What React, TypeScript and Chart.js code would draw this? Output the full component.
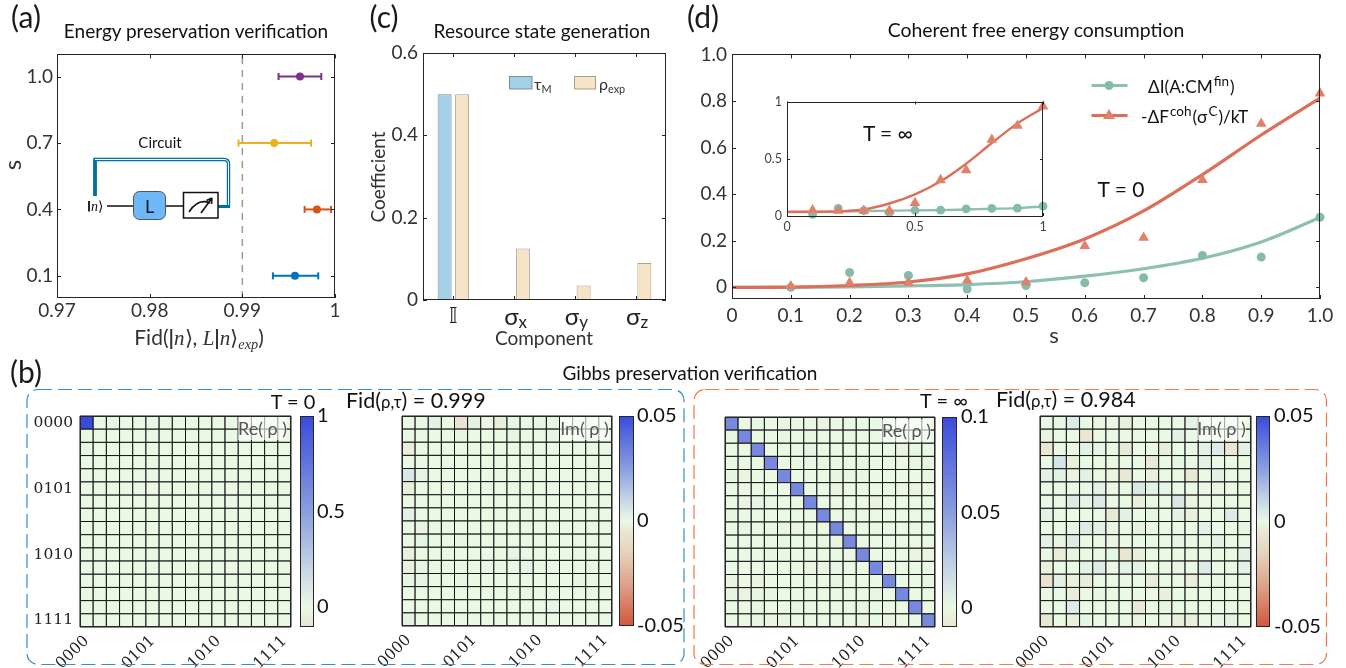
import React, { useEffect, useRef } from "react";
import { Chart, registerables } from "chart.js";
Chart.register(...registerables);

const FONT = "Lato";
const INK = "#333";

// ---------- (a) energy preservation
const sValuesA = [0.1, 0.4, 0.7, 1.0];
const fidCenter = [0.99568, 0.99805, 0.99344, 0.99622];
const fidLow = [0.9933, 0.99672, 0.98959, 0.99391];
const fidHigh = [0.99819, 0.99957, 0.99741, 0.99852];
const fidColors = ["#0072BD", "#D95319", "#EDB120", "#7E2F8E"];
const fidTicks = [0.97, 0.98, 0.99, 1];
const fidThreshold = 0.99;

// ---------- (c) resource state
const components = ["𝕀", "σx", "σy", "σz"];
const tauM = [0.5, 0, 0, 0];
const rhoExp = [0.5, 0.125, 0.035, 0.09];

// ---------- (d) coherent free energy, T = 0
const sGrid = [0.1, 0.2, 0.3, 0.4, 0.5, 0.6, 0.7, 0.8, 0.9, 1.0];
const deltaI = [0, 0.064, 0.051, -0.007, 0.008, 0.02, 0.041, 0.137, 0.13, 0.301];
const deltaF = [0.005, 0.02, 0.02, 0.03, 0.022, 0.178, 0.213, 0.461, 0.703, 0.833];
const curveS = [0, 0.1, 0.2, 0.3, 0.4, 0.5, 0.6, 0.7, 0.8, 0.9, 1.0];
const deltaIFit = [0, 0, 0.002, 0.006, 0.012, 0.024, 0.048, 0.08, 0.125, 0.195, 0.3];
const deltaFFit = [0, 0.001, 0.008, 0.023, 0.058, 0.123, 0.208, 0.328, 0.484, 0.654, 0.812];

// ---------- (d) inset, T = infinity
const deltaIInf = [0.014, 0.066, 0.046, 0.029, 0.051, 0.051, 0.063, 0.066, 0.069, 0.086];
const deltaFInf = [0.051, 0.046, 0.046, 0.046, 0.114, 0.314, 0.4, 0.666, 0.789, 0.957];
const deltaIInfFit = [0.034, 0.034, 0.04, 0.043, 0.046, 0.049, 0.051, 0.057, 0.063, 0.069, 0.083];
const deltaFInfFit = [0.037, 0.037, 0.04, 0.057, 0.109, 0.189, 0.303, 0.457, 0.637, 0.809, 0.943];

// ---------- (b) density matrices: [row, col, value], every other cell is near zero
const basisTicks = [0, 5, 10, 15];
const basisLabels = ["0000", "0101", "1010", "1111"];
const reT0 = [[0, 0, 1], [0, 2, 0.012], [2, 0, 0.012], [14, 1, 0.012]];
const imT0 = [
  [0, 2, 0.002], [0, 4, -0.006], [0, 5, 0.002], [0, 7, -0.003], [0, 8, 0.001], [0, 10, 0.001], [0, 11, 0.001],
  [1, 4, -0.001], [1, 8, 0.001], [1, 11, 0.001], [2, 0, -0.003], [4, 0, 0.005], [4, 1, 0.001], [5, 0, -0.003],
  [7, 0, 0.002], [8, 1, -0.001], [9, 1, 0.001], [9, 4, 0.001], [10, 0, -0.002], [10, 8, 0.001], [11, 0, -0.002],
  [11, 1, 0.001], [11, 9, 0.001], [12, 0, 0.001], [12, 1, 0.001], [12, 4, 0.001], [12, 13, 0.001], [14, 11, 0.001],
  [15, 0, 0.002],
];
const reInfDiagonal = [0.0625, 0.0625, 0.0625, 0.0625, 0.0625, 0.0625, 0.0625, 0.0625, 0.0625, 0.0625, 0.0625, 0.0625, 0.0625, 0.0625, 0.0625, 0.0625];
const reInfOff = [
  [0, 4, -0.002], [0, 5, -0.001], [0, 7, -0.002], [1, 0, -0.001], [1, 4, -0.001], [1, 6, -0.001], [1, 9, 0.001],
  [2, 6, 0.002], [2, 13, -0.002], [2, 14, 0.001], [3, 7, -0.001], [3, 10, -0.002], [3, 14, -0.002], [3, 15, -0.002],
  [4, 0, -0.002], [4, 1, -0.002], [4, 8, -0.002], [4, 9, 0.001], [4, 10, 0.001], [4, 15, -0.001], [5, 8, -0.002],
  [5, 13, -0.001], [5, 14, -0.002], [6, 1, -0.002], [6, 2, 0.002], [6, 3, 0.001], [6, 11, -0.003], [7, 0, -0.002],
  [7, 9, -0.001], [8, 1, 0.001], [8, 3, -0.001], [8, 4, -0.002], [8, 5, -0.002], [8, 11, 0.001], [8, 12, 0.001],
  [9, 4, 0.001], [9, 7, -0.001], [9, 8, -0.002], [10, 3, -0.002], [10, 4, 0.001], [10, 14, -0.002], [10, 15, -0.002],
  [11, 6, -0.002], [11, 7, -0.002], [11, 8, 0.001], [12, 0, -0.002], [12, 2, -0.002], [12, 8, 0.001], [12, 15, -0.002],
  [13, 0, -0.002], [13, 1, -0.002], [13, 2, 0.001], [13, 3, -0.002], [13, 11, -0.001], [14, 2, -0.001], [14, 5, -0.002],
  [14, 10, -0.002], [15, 2, 0.001], [15, 3, -0.002], [15, 4, -0.002], [15, 10, -0.002], [15, 12, -0.002],
];
const imInf = [
  [0, 1, 0.001], [0, 2, 0.004], [0, 4, -0.001], [0, 6, -0.002], [0, 11, 0.002], [1, 0, -0.001], [1, 3, -0.005], [1, 10, 0.002],
  [2, 0, -0.005], [2, 3, 0.002], [2, 4, 0.001], [2, 6, -0.004], [2, 9, -0.003], [2, 12, 0.002], [2, 13, 0.004], [2, 14, -0.005], [2, 15, 0.002],
  [3, 1, 0.006], [3, 2, -0.002], [3, 8, -0.004], [3, 10, 0.001], [3, 12, 0.002],
  [4, 0, 0.002], [4, 1, 0.002], [4, 2, -0.001], [4, 3, 0.002], [4, 5, -0.001], [4, 6, -0.004], [4, 8, -0.002], [4, 11, -0.004], [4, 13, 0.002],
  [5, 4, 0.002], [5, 7, 0.005], [5, 8, 0.002], [5, 9, 0.001], [5, 13, -0.001],
  [6, 2, 0.004], [6, 3, 0.001], [6, 4, 0.004], [6, 7, -0.002], [6, 10, 0.005], [6, 11, -0.001],
  [7, 0, 0.002], [7, 5, -0.004], [7, 6, 0.002], [7, 8, 0.001], [7, 10, 0.002], [7, 11, -0.002], [7, 14, 0.004],
  [8, 2, 0.001], [8, 3, 0.004], [8, 4, 0.002], [8, 5, -0.001], [8, 7, -0.002], [8, 12, 0.002], [8, 15, 0.001],
  [9, 0, 0.002], [9, 1, -0.001], [9, 2, 0.004], [9, 5, -0.001], [9, 10, 0.001], [9, 13, 0.002],
  [10, 1, -0.003], [10, 2, -0.001], [10, 5, 0.001], [10, 6, -0.005], [10, 7, -0.002], [10, 15, 0.002],
  [11, 0, -0.002], [11, 3, 0.002], [11, 4, 0.004], [11, 6, 0.002], [11, 7, 0.002], [11, 10, -0.001], [11, 12, 0.004], [11, 15, 0.002],
  [12, 0, -0.007], [12, 1, 0.002], [12, 2, -0.002], [12, 3, -0.003], [12, 8, -0.003], [12, 11, -0.003], [12, 13, -0.001],
  [13, 2, -0.003], [13, 4, -0.001], [13, 9, -0.002],
  [14, 2, 0.004], [14, 7, -0.004], [14, 9, 0.001],
  [15, 0, -0.005], [15, 2, -0.002], [15, 3, 0.001], [15, 7, -0.001], [15, 10, -0.002], [15, 11, -0.002], [15, 13, 0.001], [15, 14, 0.002],
];

// ---------- colormap shared by the matrices and their colour bars
const cmapT = [-1, -0.6, -0.3, -0.1, 0, 0.08, 0.25, 0.5, 1];
const cmapRGB = [[208, 87, 61], [221, 163, 139], [230, 211, 186], [233, 230, 211], [233, 249, 228], [221, 235, 230], [188, 205, 228], [138, 158, 224], [58, 75, 219]];
function cmap(t: number) {
  const v = Math.max(-1, Math.min(1, t));
  let i = 0;
  while (i < cmapT.length - 2 && v > cmapT[i + 1]) i++;
  const f = (v - cmapT[i]) / (cmapT[i + 1] - cmapT[i]);
  const c = cmapRGB[i].map((a, k) => Math.round(a + (cmapRGB[i + 1][k] - a) * f));
  return `rgb(${c[0]},${c[1]},${c[2]})`;
}

// ---------- layout helpers
type Area = { l: number; t: number; r: number; b: number };
type Margin = { l: number; t: number; r: number; b: number };

const framePlugin = (tick: number) => ({
  id: "frame",
  afterDraw(chart: any) {
    const { ctx, chartArea: a, scales } = chart;
    ctx.save();
    ctx.strokeStyle = "#262626";
    ctx.lineWidth = 1;
    ctx.strokeRect(Math.round(a.left) + 0.5, Math.round(a.top) + 0.5, Math.round(a.width) - 1, Math.round(a.height) - 1);
    if (tick > 0) {
      ctx.beginPath();
      scales.x.ticks.forEach((t: any) => {
        const p = Math.round(scales.x.getPixelForValue(t.value)) + 0.5;
        ctx.moveTo(p, a.top); ctx.lineTo(p, a.top + tick);
        ctx.moveTo(p, a.bottom); ctx.lineTo(p, a.bottom - tick);
      });
      scales.y.ticks.forEach((t: any) => {
        const p = Math.round(scales.y.getPixelForValue(t.value)) + 0.5;
        ctx.moveTo(a.left, p); ctx.lineTo(a.left + tick, p);
        ctx.moveTo(a.right, p); ctx.lineTo(a.right - tick, p);
      });
      ctx.stroke();
    }
    ctx.restore();
  },
});

const fixedTicks = (vals: number[]) => (s: any) => { s.ticks = vals.map((value) => ({ value })); };
const fitW = (w: number) => (s: any) => { s.width = w; };
const fitH = (h: number) => (s: any) => { s.height = h; };

function tickFont(size: number, family = FONT) { return { size, family }; }

function numScale(min: number, max: number, ticks: number[], label: (v: number) => string, fit: any, size = 19, color = INK, padding = 5) {
  return {
    type: "linear", min, max, afterBuildTicks: fixedTicks(ticks), afterFit: fit,
    grid: { display: false, drawTicks: false }, border: { display: false },
    ticks: { autoSkip: false, maxRotation: 0, minRotation: 0, padding, color, font: tickFont(size), callback: (v: number) => label(v) },
  };
}

function mkSpec(area: Area, m: Margin, type: string, datasets: any[], scales: any, plugins: any[], layoutPad?: any) {
  return {
    rect: { left: area.l - m.l, top: area.t - m.t, width: area.r - area.l + m.l + m.r, height: area.b - area.t + m.t + m.b },
    config: {
      type,
      data: { datasets },
      plugins,
      options: {
        responsive: false, animation: false, devicePixelRatio: 1,
        layout: { padding: layoutPad ?? { left: 0, top: m.t, right: m.r, bottom: 0 } },
        plugins: { legend: { display: false }, tooltip: { enabled: false } },
        events: [],
        scales,
      },
    },
  };
}

// ---------- panel builders
function panelA() {
  const area = { l: 57, t: 53, r: 335, b: 298 };
  const m = { l: 57, t: 14, r: 11, b: 26 };
  const ds: any[] = sValuesA.map((s, i) => ({
    label: `s = ${s}`,
    data: [{ x: fidLow[i], y: s }, { x: fidCenter[i], y: s }, { x: fidHigh[i], y: s }],
    showLine: true, borderColor: fidColors[i], backgroundColor: fidColors[i], borderWidth: 2,
    pointStyle: ["line", "circle", "line"], pointRotation: [90, 0, 90], pointRadius: [3.5, 4, 3.5],
    pointBorderWidth: [2, 0, 2], pointBorderColor: fidColors[i], pointBackgroundColor: fidColors[i], clip: false,
  }));
  ds.push({ label: "threshold", data: [{ x: fidThreshold, y: 0 }, { x: fidThreshold, y: 1.1 }], showLine: true, borderColor: "#9a9a9a", borderWidth: 1.5, borderDash: [7, 6], pointRadius: 0 });
  return mkSpec(area, m, "scatter", ds, {
    x: numScale(0.97, 1, fidTicks, (v) => (v === 1 ? "1" : v.toFixed(2)), fitH(m.b), 19, INK, 1),
    y: numScale(0, 1.1, sValuesA, (v) => v.toFixed(1), fitW(m.l), 19, INK, 4),
  }, [framePlugin(4)]);
}

const subLabelsPlugin = {
  id: "subLabels",
  afterDraw(chart: any) {
    const { ctx, scales } = chart;
    const x = scales.x;
    const base = x.top + 17;
    ctx.save();
    ctx.fillStyle = "#222";
    ctx.textBaseline = "middle";
    ctx.textAlign = "left";
    components.forEach((name, i) => {
      const chars = Array.from(name);
      const main = chars[0];
      const sub = chars.slice(1).join("");
      const px = x.getPixelForTick(i);
      const mainFont = sub ? `24px ${FONT}` : "22px 'DejaVu Sans'";
      ctx.font = mainFont;
      const w1 = ctx.measureText(main).width;
      ctx.font = `17px ${FONT}`;
      const w2 = sub ? ctx.measureText(sub).width : 0;
      const x0 = px - (w1 + w2) / 2 + (sub ? 1.5 : 0);
      ctx.font = mainFont;
      ctx.fillText(main, x0, base);
      if (sub) {
        ctx.font = `17px ${FONT}`;
        ctx.fillText(sub, x0 + w1, base + 6);
      }
    });
    ctx.restore();
  },
};

function panelC() {
  const area = { l: 423, t: 53, r: 666, b: 300 };
  const m = { l: 40, t: 53, r: 10, b: 35 };
  const barOpts = { categoryPercentage: 0.576, barPercentage: 0.8, borderWidth: 1, borderSkipped: false };
  const ds = [
    { label: "τM", data: tauM, backgroundColor: "#A5D1E8", borderColor: "#7e8c98", ...barOpts },
    { label: "ρexp", data: rhoExp, backgroundColor: "#F5E4C6", borderColor: "#a79e90", ...barOpts },
  ];
  const spec: any = mkSpec(area, m, "bar", ds, {
    x: {
      type: "category", labels: components, afterFit: fitH(m.b), offset: true,
      grid: { display: false, drawTicks: false }, border: { display: false }, ticks: { display: false },
    },
    y: numScale(0, 0.6, [0, 0.2, 0.4, 0.6], (v) => (v === 0 ? "0" : v.toFixed(1)), fitW(m.l), 19, INK, 5),
  }, [framePlugin(4), subLabelsPlugin]);
  spec.config.data.labels = components;
  return spec;
}

const pointsOf = (xs: number[], ys: number[]) => xs.map((x, i) => ({ x, y: ys[i] }));

function fitDatasets(iPts: number[], fPts: number[], iFit: number[], fFit: number[], lw: number, r: number, tri: number) {
  const GREEN = "#86BBAC", RED = "#E3806A";
  return [
    { label: "ΔF points", data: pointsOf(sGrid, fPts), pointStyle: "triangle", pointRadius: tri, pointBackgroundColor: RED, pointBorderWidth: 0, clip: false },
    { label: "ΔI points", data: pointsOf(sGrid, iPts), pointStyle: "circle", pointRadius: r, pointBackgroundColor: GREEN, pointBorderWidth: 0, clip: false },
    { label: "ΔF fit", data: pointsOf(curveS, fFit), showLine: true, borderColor: "#DD6F58", borderWidth: lw, pointRadius: 0, cubicInterpolationMode: "monotone" },
    { label: "ΔI fit", data: pointsOf(curveS, iFit), showLine: true, borderColor: "#8FBFB2", borderWidth: lw, pointRadius: 0, cubicInterpolationMode: "monotone" },
  ];
}

function panelD() {
  const area = { l: 732, t: 52, r: 1320, b: 299 };
  const m = { l: 40, t: 14, r: 20, b: 30 };
  return mkSpec(area, m, "scatter", fitDatasets(deltaI, deltaF, deltaIFit, deltaFFit, 3.2, 4.5, 6.2), {
    x: numScale(0, 1, [0, ...sGrid], (v) => (v === 0 ? "0" : v.toFixed(1)), fitH(m.b), 19, INK, 5),
    y: numScale(-0.05, 1, [0, 0.2, 0.4, 0.6, 0.8, 1], (v) => (v === 0 ? "0" : v.toFixed(1)), fitW(m.l), 19, INK, 5),
  }, [framePlugin(4)]);
}

function panelInset() {
  const area = { l: 787, t: 99, r: 1043, b: 216 };
  const m = { l: 40, t: 10, r: 12, b: 22 };
  const fmt = (v: number) => String(v);
  return mkSpec(area, m, "scatter", fitDatasets(deltaIInf, deltaFInf, deltaIInfFit, deltaFInfFit, 2.4, 4.4, 6.2), {
    x: numScale(0, 1, [0, 0.5, 1], fmt, fitH(m.b), 12.5, "#444", 3),
    y: numScale(0, 1, [0, 0.5, 1], fmt, fitW(m.l), 12.5, "#444", 5),
  }, [framePlugin(3)]);
}

function heatSpec(area: Area, cells: number[][], vmax: number, showY: boolean) {
  const m = { l: 60, t: 24, r: 14, b: 41 };
  const grid: number[][] = Array.from({ length: 16 }, () => new Array(16).fill(0));
  cells.forEach(([r, c, v]) => { grid[r][c] = v; });
  const pts: any[] = [];
  const cols: string[] = [];
  grid.forEach((row, r) => row.forEach((v, c) => { pts.push({ x: c, y: r }); cols.push(cmap(v / vmax)); }));
  const side = (area.r - area.l) / 16;
  const labelOf = (v: number) => basisLabels[basisTicks.indexOf(v)] ?? "";
  const serif = { size: 15.5, family: "'DejaVu Serif'" };
  return mkSpec(area, m, "scatter", [{
    label: "cells", data: pts, pointStyle: "rect", pointRadius: side * Math.SQRT1_2,
    pointBackgroundColor: cols, pointBorderColor: "#141414", pointBorderWidth: 1, clip: false,
  }], {
    x: {
      type: "linear", min: -0.5, max: 15.5, afterBuildTicks: fixedTicks(basisTicks), afterFit: fitH(m.b),
      grid: { display: false, drawTicks: false }, border: { display: false },
      ticks: { autoSkip: false, minRotation: 45, maxRotation: 45, padding: 5, color: "#222", font: serif, callback: labelOf },
    },
    y: {
      type: "linear", reverse: true, min: -0.5, max: 15.5, afterBuildTicks: fixedTicks(basisTicks), afterFit: fitW(m.l),
      grid: { display: false, drawTicks: false }, border: { display: false },
      ticks: { display: showY, autoSkip: false, padding: 7, color: "#222", font: serif, callback: labelOf },
    },
  }, [framePlugin(0)]);
}

const gradientPlugin = (vmax: number) => ({
  id: "gradientBar",
  beforeDatasetsDraw(chart: any) {
    const { ctx, chartArea: a, scales } = chart;
    for (let p = Math.floor(a.top); p < a.bottom; p++) {
      ctx.fillStyle = cmap(scales.y.getValueForPixel(p + 0.5) / vmax);
      ctx.fillRect(a.left, p, a.width, 1);
    }
  },
});

function barSpec(area: Area, vmin: number, vmax: number, ticks: number[], pad: number) {
  const m = { l: 4, t: 24, r: 52, b: 24 };
  return mkSpec(area, m, "scatter", [], {
    x: { display: false, type: "linear", min: 0, max: 1 },
    y: {
      type: "linear", position: "right", min: vmin, max: vmax, afterBuildTicks: fixedTicks(ticks), afterFit: fitW(m.r),
      grid: { display: false, drawTicks: false }, border: { display: false },
      ticks: { autoSkip: false, padding: pad, color: "#111", font: tickFont(20), callback: (v: number) => String(v) },
    },
  }, [gradientPlugin(vmax), framePlugin(0)], { left: m.l, top: m.t, right: 0, bottom: m.b });
}

const specs = [
  panelA(),
  panelC(),
  panelD(),
  panelInset(),
  heatSpec({ l: 80, t: 416, r: 291, b: 627 }, reT0, 1, true),
  barSpec({ l: 300, t: 416, r: 314, b: 627 }, -0.107, 1, [0, 0.5, 1], 3),
  heatSpec({ l: 402, t: 416, r: 612, b: 626 }, imT0, 0.05, false),
  barSpec({ l: 619, t: 416, r: 634, b: 626 }, -0.05, 0.05, [-0.05, 0, 0.05], 3),
  heatSpec({ l: 725, t: 417, r: 935, b: 627 }, [...reInfOff, ...reInfDiagonal.map((v, i) => [i, i, v])], 0.1, false),
  barSpec({ l: 942, t: 417, r: 957, b: 627 }, -0.0102, 0.1, [0, 0.05, 0.1], 4),
  heatSpec({ l: 1040, t: 416, r: 1251, b: 627 }, imInf, 0.05, false),
  barSpec({ l: 1256, t: 416, r: 1270, b: 627 }, -0.05, 0.05, [-0.05, 0, 0.05], 4),
];

// ---------- overlay text
function Txt(p: { x: number; y: number; s: number; c?: string; a?: string; rot?: number; f?: string; children: any }) {
  const tx = p.a === "start" ? "0" : p.a === "end" ? "-100%" : "-50%";
  return (
    <div style={{
      position: "absolute", left: p.x, top: p.y, fontSize: p.s, color: p.c ?? "#111", fontFamily: p.f ?? FONT, lineHeight: 1,
      whiteSpace: "nowrap", transform: `translate(${tx},-50%)${p.rot ? ` rotate(${p.rot}deg)` : ""}`,
    }}>{p.children}</div>
  );
}
const Sub = ({ children }: any) => <span style={{ fontSize: "0.68em", verticalAlign: "-0.3em", lineHeight: 0 }}>{children}</span>;
const Sup = ({ children }: any) => <span style={{ fontSize: "0.78em", verticalAlign: "0.5em", lineHeight: 0, marginLeft: 1, marginRight: 1 }}>{children}</span>;
const Small = ({ children }: any) => <span style={{ fontSize: "0.78em" }}>{children}</span>;
const It = ({ children }: any) => <span style={{ fontFamily: "'Liberation Serif'", fontStyle: "italic" }}>{children}</span>;

function ReIm({ x, y, label, w = 49 }: { x: number; y: number; label: string; w?: number }) {
  return (
    <div style={{
      position: "absolute", left: x, top: y, width: w, height: 23, background: "rgba(255,255,255,0.62)", color: "#555",
      fontFamily: FONT, fontSize: 18, lineHeight: "23px", textAlign: "center", whiteSpace: "nowrap",
    }}>{label}( ρ )</div>
  );
}

function Overlay() {
  return (
    <>
      <svg width={1346} height={668} style={{ position: "absolute", left: 0, top: 0 }}>
        <rect x={27} y={389.5} width={657} height={275} rx={11} fill="none" stroke="#2E8FD3" strokeWidth={1.2} strokeDasharray="14 6" />
        <rect x={694} y={389.5} width={632.5} height={275} rx={11} fill="none" stroke="#F0794A" strokeWidth={1.2} strokeDasharray="14 6" />
        {/* circuit in (a) */}
        <path d="M95 196 V159.5 H224 Q228.5 159.5 228.5 164 V206" fill="none" stroke="#00709D" strokeWidth={3.4} />
        <path d="M95 159.5 H224 Q228.5 159.5 228.5 164 V205" fill="none" stroke="#fff" strokeWidth={1} />
        <path d="M95 160 V196" stroke="#00709D" strokeWidth={3.4} fill="none" />
        <path d="M218 206.5 H230" stroke="#00709D" strokeWidth={3} />
        <path d="M107 206 H134 M165 206 H184" stroke="#111" strokeWidth={1.5} />
        <rect x={133.5} y={191.5} width={32} height={28} rx={6} fill="#6DB8F8" stroke="#555" strokeWidth={1} />
        <rect x={183.5} y={192.5} width={34.5} height={25.5} fill="#fff" stroke="#111" strokeWidth={1.5} />
        <path d="M189 212 Q198 198 210 203" fill="none" stroke="#111" strokeWidth={1.6} />
        <path d="M201 213 L212 198 M212 198 L206.5 200.5 M212 198 L211.5 204" fill="none" stroke="#111" strokeWidth={1.6} />
        <path d="M89 201 V211.5" stroke="#111" strokeWidth={1.8} />
        {/* legend of (c) */}
        <rect x={509.5} y={76.5} width={22.5} height={12.5} fill="#A5D1E8" stroke="#7e8c98" />
        <rect x={574.5} y={76.5} width={21} height={12.5} fill="#F5E4C6" stroke="#a79e90" />
        {/* legend of (d) */}
        <path d="M1091.5 85.5 H1127.5" stroke="#8FBFB2" strokeWidth={3} />
        <circle cx={1109} cy={85.5} r={4.5} fill="#86BBAC" />
        <path d="M1091.5 115.5 H1127.5" stroke="#DD6F58" strokeWidth={3} />
        <path d="M1109 109 L1115 119 L1103 119 Z" fill="#E3806A" />
      </svg>

      <Txt x={26} y={16} s={30} c="#1a1a1a">(a)</Txt>
      <Txt x={384} y={16} s={30} c="#1a1a1a">(c)</Txt>
      <Txt x={703} y={16} s={30} c="#1a1a1a">(d)</Txt>
      <Txt x={26} y={371} s={30} c="#1a1a1a">(b)</Txt>

      <Txt x={196} y={30} s={19}>Energy preservation verification</Txt>
      <Txt x={542} y={30} s={19}>Resource state generation</Txt>
      <Txt x={1036} y={30} s={19.4}>Coherent free energy consumption</Txt>
      <Txt x={690} y={372} s={19}>Gibbs preservation verification</Txt>

      <Txt x={12} y={165} s={24} rot={-90} c={INK}>s</Txt>
      <Txt x={199} y={337} s={21} c={INK}>Fid(<b>|</b><It>n</It>⟩, <It>L</It><b>|</b><It>n</It>⟩<Sub><It>exp</It></Sub>)</Txt>
      <Txt x={160} y={142} s={15}>Circuit</Txt>
      <Txt x={91} y={206} s={14} a="start" c="#111"><It>n</It>⟩</Txt>
      <Txt x={149.5} y={205.5} s={18} c="#111">L</Txt>

      <Txt x={377} y={177} s={19} rot={-90} c={INK}>Coefficient</Txt>
      <Txt x={544} y={337} s={19} c={INK}>Component</Txt>
      <Txt x={534} y={84} s={16} a="start" c={INK}>τ<Sub>M</Sub></Txt>
      <Txt x={599} y={84} s={16} a="start" c={INK}>ρ<Sub>exp</Sub></Txt>

      <Txt x={1054} y={335} s={22} c={INK}>s</Txt>
      <Txt x={1148} y={87} s={17.3} a="start">ΔI(A:CM<Sup>fin</Sup>)</Txt>
      <Txt x={1141} y={117} s={17.3} a="start">-ΔF<Sup>coh</Sup>(σ<Sup>C</Sup>)/kT</Txt>
      <Txt x={1121} y={188} s={21}>T = 0</Txt>
      <Txt x={888} y={132} s={21}>T = ∞</Txt>

      <Txt x={293} y={401} s={20} c="#111">T = 0</Txt>
      <Txt x={346} y={401} s={21.5} a="start" c="#111">Fid(<Small>ρ,τ</Small>) = 0.999</Txt>
      <Txt x={944} y={400} s={20} c="#111">T = ∞</Txt>
      <Txt x={996} y={400} s={21.5} a="start" c="#111">Fid(<Small>ρ,τ</Small>) = 0.984</Txt>

      <ReIm x={238} y={417} label="Re" />
      <ReIm x={560} y={417} label="Im" />
      <ReIm x={882} y={419} label="Re" />
      <ReIm x={1197} y={417} label="Im" />
    </>
  );
}

export default function App() {
  const refs = useRef<(HTMLCanvasElement | null)[]>([]);
  useEffect(() => {
    const charts = specs.map((s, i) => new Chart(refs.current[i] as HTMLCanvasElement, s.config as any));
    return () => charts.forEach((c) => c.destroy());
  }, []);
  return (
    <div style={{ position: "absolute", left: 0, top: 0, width: 1346, height: 668, overflow: "hidden", background: "#fff" }}>
      {specs.map((s, i) => (
        <canvas key={i} ref={(el) => { refs.current[i] = el; }} width={s.rect.width} height={s.rect.height}
          style={{ position: "absolute", left: s.rect.left, top: s.rect.top, width: s.rect.width, height: s.rect.height }} />
      ))}
      <Overlay />
    </div>
  );
}
